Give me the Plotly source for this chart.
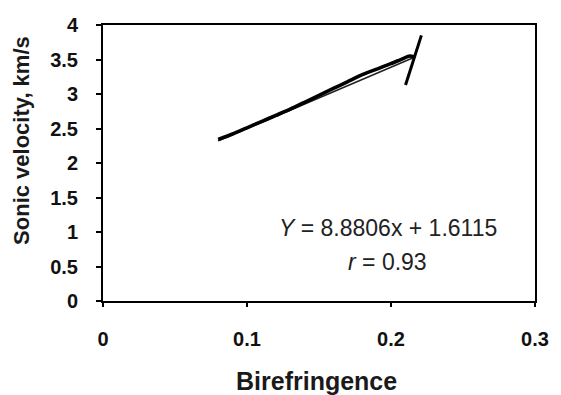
import plotly.graph_objects as go

# Measured birefringence vs sonic velocity (km/s)
biref = [0.080, 0.090, 0.100, 0.110, 0.120, 0.130, 0.140, 0.150,
         0.160, 0.170, 0.180, 0.190, 0.200, 0.208, 0.213, 0.216]
velocity = [2.34, 2.42, 2.51, 2.60, 2.69, 2.78, 2.88, 2.98,
            3.08, 3.18, 3.28, 3.36, 3.44, 3.51, 3.55, 3.54]

# Steep segment near the upper end
steep_biref = [0.2101, 0.2211]
steep_velocity = [3.13, 3.85]

# Linear fit Y = a*x + b
slope = 8.8806
intercept = 1.6115
r_value = 0.93
fit_x = [0.080, 0.2158]
fit_y = [slope * v + intercept for v in fit_x]

x_ticks = [0, 0.1, 0.2, 0.3]
x_tick_text = ["0", "0.1", "0.2", "0.3"]
y_ticks = [0, 0.5, 1, 1.5, 2, 2.5, 3, 3.5, 4]
y_tick_text = ["0", "0.5", "1", "1.5", "2", "2.5", "3", "3.5", "4"]

FONT = "Arial, Liberation Sans, sans-serif"

fig = go.Figure()
fig.add_trace(go.Scatter(x=fit_x, y=fit_y, mode="lines",
                         line=dict(color="#222222", width=1.6),
                         showlegend=False, hoverinfo="skip"))
fig.add_trace(go.Scatter(x=biref, y=velocity, mode="lines",
                         line=dict(color="#000000", width=3.6, shape="spline", smoothing=0.6),
                         showlegend=False))
fig.add_trace(go.Scatter(x=steep_biref, y=steep_velocity, mode="lines",
                         line=dict(color="#000000", width=3),
                         showlegend=False))

axis_common = dict(showgrid=False, zeroline=False, showline=True, linecolor="#000000",
                   linewidth=2, mirror=True, ticks="outside", tickcolor="#000000",
                   tickwidth=1.5,
                   tickfont=dict(family=FONT, size=20, color="#111111", weight="bold"))

fig.update_xaxes(range=[0, 0.3], tickvals=x_ticks, ticktext=x_tick_text,
                 ticklen=4, ticklabelstandoff=15, **axis_common)
fig.update_yaxes(range=[0, 4], tickvals=y_ticks, ticktext=y_tick_text,
                 ticklen=5, ticklabelstandoff=14, **axis_common)

fig.add_annotation(x=0.1977, y=1.06, xref="x", yref="y", showarrow=False,
                   text=f"<i>Y</i> = {slope}x + {intercept}",
                   font=dict(family=FONT, size=23, color="#222222"))
fig.add_annotation(x=0.1977, y=0.567, xref="x", yref="y", showarrow=False,
                   text=f"<i>r</i> = {r_value}",
                   font=dict(family=FONT, size=23, color="#222222"))

fig.add_annotation(x=0.494, y=0, xref="paper", yref="paper", yshift=-80,
                   yanchor="middle", showarrow=False, text="Birefringence",
                   font=dict(family=FONT, size=25, color="#1a1a1a", weight="bold"))
fig.add_annotation(x=0, y=0.58, xref="paper", yref="paper", xshift=-81,
                   xanchor="center", yanchor="middle", textangle=-90, showarrow=False,
                   text="Sonic velocity, km/s",
                   font=dict(family=FONT, size=22, color="#1a1a1a", weight="bold"))

fig.update_layout(width=561, height=395, margin=dict(l=103, r=15, t=25, b=94),
                  plot_bgcolor="white", paper_bgcolor="white")

fig.write_html("out.html")
